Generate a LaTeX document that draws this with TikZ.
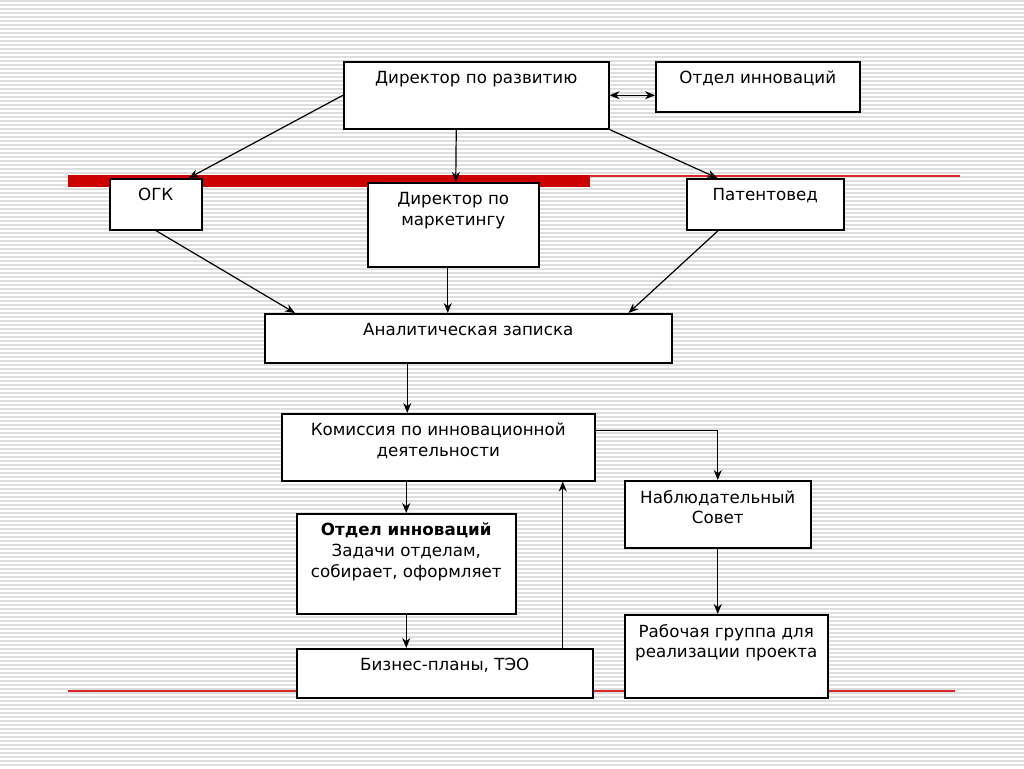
\documentclass[tikz,border=0pt]{standalone}
\usepackage{fontspec}
\setmainfont{DejaVu Sans}
\usetikzlibrary{arrows.meta}
\definecolor{redbar}{RGB}{204,0,0}
\definecolor{redline}{RGB}{215,40,40}
\definecolor{stripe}{RGB}{222,222,222}
\begin{document}
\begin{tikzpicture}[x=1pt,y=-1pt,
  box/.style={draw=black,line width=1.5pt,fill=white,inner sep=0pt,anchor=north west},
  lbl/.style={anchor=north,inner sep=0pt,align=center,font=\fontsize{16.7}{20.8}\selectfont},
  arr/.style={line width=1.2pt,-{Stealth[length=10pt,width=8pt]}},
  darr/.style={line width=1.2pt,{Stealth[length=10pt,width=8pt]}-{Stealth[length=10pt,width=8pt]}}]
\useasboundingbox (0,0) rectangle (1024,768);
\fill[white] (0,0) rectangle (1024,768);
\foreach \i in {0,...,191}{
  \draw[line width=1.2pt,color=stripe] (0,{\i*4+1}) -- (1024,{\i*4+1});
}
% red lines
\fill[redbar] (68,175) rectangle (590,187);
\fill[redline] (590,175) rectangle (960,176.6);
\fill[redline] (68,690.2) rectangle (955,691.8);
% boxes
\node[box,minimum width=265,minimum height=67] (dr) at (343,61) {};
\node[box,minimum width=204,minimum height=50] (oi) at (655,61) {};
\node[box,minimum width=92,minimum height=51] (ogk) at (109,178) {};
\node[box,minimum width=171,minimum height=84] (mk) at (367,182) {};
\node[box,minimum width=157,minimum height=51] (pat) at (686,178) {};
\node[box,minimum width=407,minimum height=49] (an) at (264,313) {};
\node[box,minimum width=313,minimum height=67] (km) at (281,413) {};
\node[box,minimum width=219,minimum height=100] (od) at (296,513) {};
\node[box,minimum width=296,minimum height=49] (bp) at (296,648) {};
\node[box,minimum width=186,minimum height=67] (ns) at (624,480) {};
\node[box,minimum width=203,minimum height=83] (rg) at (624,614) {};
% labels
\node[lbl] (tdr) at ([yshift=-10]dr.north) {Директор по развитию};
\node[lbl] (toi) at ([yshift=-10]oi.north) {Отдел инноваций};
\node[lbl] (togk) at ([yshift=-10]ogk.north) {ОГК};
\node[lbl] (tmk) at ([yshift=-10]mk.north) {Директор по\\маркетингу};
\node[lbl] (tpat) at ([yshift=-10]pat.north) {Патентовед};
\node[lbl] (tan) at ([yshift=-10]an.north) {Аналитическая записка};
\node[lbl] (tkm) at ([yshift=-10]km.north) {Комиссия по инновационной\\деятельности};
\node[lbl] (tod) at ([yshift=-10]od.north) {\textbf{Отдел инноваций}\\Задачи отделам,\\собирает, оформляет};
\node[lbl] (tbp) at ([yshift=-10]bp.north) {Бизнес-планы, ТЭО};
\node[lbl] (tns) at ([yshift=-10]ns.north) {Наблюдательный\\Совет};
\node[lbl] (trg) at ([yshift=-10]rg.north) {Рабочая группа для\\реализации проекта};
% connectors
\draw[arr] (dr.west) -- ([xshift=33]ogk.north);
\draw[arr] ([xshift=-20]dr.south) -- ([xshift=2.5]mk.north);
\draw[arr] (dr.south east) -- ([xshift=-48]pat.north);
\draw[darr] (dr.east) -- (dr.east -| oi.west);
\draw[arr] (ogk.south) -- ([xshift=31]an.north west);
\draw[arr] ([xshift=-5.5]mk.south) -- ([xshift=-5.5]mk.south |- an.north);
\draw[arr] ([xshift=-47]pat.south) -- ([xshift=-44]an.north east);
\draw[arr] ([xshift=-61]an.south) -- ([xshift=-61]an.south |- km.north);
\draw[arr] ([yshift=16.5]km.east) -| (ns.north);
\draw[arr] (km.south -| od.north) -- (od.north);
\draw[arr] (od.south) -- (od.south |- bp.north);
\draw[arr] ([xshift=118]bp.north) -- ([xshift=118]bp.north |- km.south);
\draw[arr] (ns.south) -- (ns.south |- rg.north);
\end{tikzpicture}
\end{document}
